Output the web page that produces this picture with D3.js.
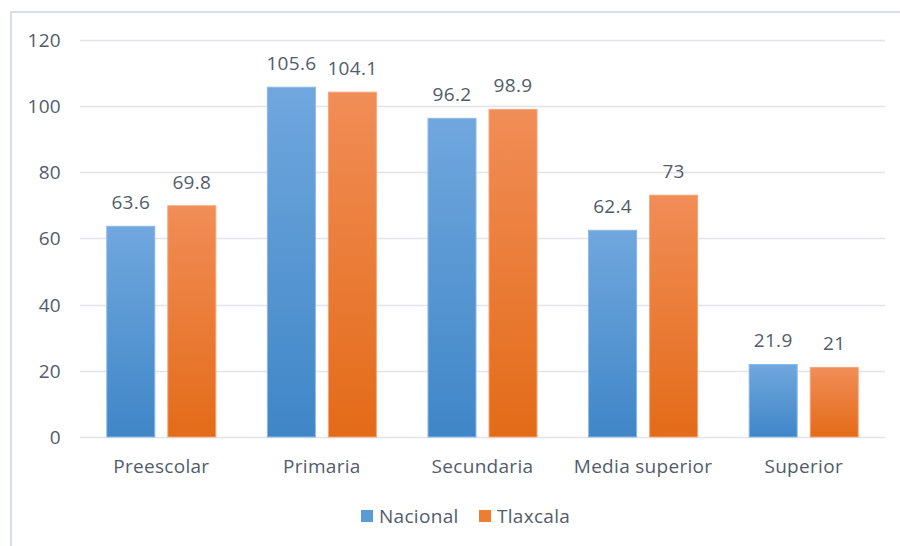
<!DOCTYPE html>
<html><head><meta charset="utf-8">
<script src="https://cdn.jsdelivr.net/npm/d3@7"></script>
<style>body{margin:0;background:#fff}svg{display:block}</style>
</head><body>
<script>
const categories = ["Preescolar","Primaria","Secundaria","Media superior","Superior"];
const series = ["Nacional","Tlaxcala"];
const nacional = [63.6,105.6,96.2,62.4,21.9];
const tlaxcala = [69.8,104.1,98.9,73,21];
const yTicks = [0,20,40,60,80,100,120];

const W=900,H=546;
const svg=d3.select("body").append("svg").attr("width",W).attr("height",H);
const font="'Open Sans', sans-serif";
const fs=19, ls="0.3px";
const txt="#525c6b";

// gradients
const defs=svg.append("defs");
const grads=[["gN","#70a7de","#3f86c7"],["gT","#f18d57","#e36b18"]];
grads.forEach(([id,a,b])=>{
  const g=defs.append("linearGradient").attr("id",id).attr("x1",0).attr("y1",0).attr("x2",0).attr("y2",1);
  g.append("stop").attr("offset","0%").attr("stop-color",a);
  g.append("stop").attr("offset","100%").attr("stop-color",b);
});
const fills={Nacional:"url(#gN)",Tlaxcala:"url(#gT)"};
const strokes={Nacional:"#8ab8e6",Tlaxcala:"#f5a577"};
const solid={Nacional:"#5b9bd5",Tlaxcala:"#ed7d31"};

// border
svg.append("path").attr("d",`M11,${H} L11,12 L${W},12`).attr("fill","none").attr("stroke","#d9dee6").attr("stroke-width",2);

const x0=d3.scaleBand().domain(categories).range([81,884]).paddingInner(0.315).paddingOuter(0.1575);
const x1=d3.scaleBand().domain(series).range([0,x0.bandwidth()]).paddingInner(0.197);
const y=d3.scaleLinear().domain([0,120]).range([437,39.5]);

// gridlines
svg.append("g").selectAll("line").data(yTicks).join("line")
  .attr("x1",80).attr("x2",885).attr("y1",d=>Math.round(y(d))+0.5).attr("y2",d=>Math.round(y(d))+0.5)
  .attr("stroke","#e1e4ea").attr("stroke-width",1.3);

function styleText(sel){
  return sel.attr("font-family",font).attr("font-size",fs).attr("letter-spacing",ls).attr("fill",txt);
}

// y labels
styleText(svg.append("g").selectAll("text").data(yTicks).join("text")
  .attr("x",61).attr("y",d=>y(d)+7).attr("text-anchor","end")).text(d=>d);

const data=categories.map((c,i)=>({c,vals:[{s:"Nacional",v:nacional[i]},{s:"Tlaxcala",v:tlaxcala[i]}]}));
const grp=svg.append("g").selectAll("g").data(data).join("g").attr("transform",d=>`translate(${x0(d.c)},0)`);
grp.selectAll("rect").data(d=>d.vals).join("rect")
  .attr("x",d=>x1(d.s)+0.5).attr("width",x1.bandwidth()-1)
  .attr("y",d=>y(d.v)).attr("height",d=>y(0)-y(d.v))
  .attr("fill",d=>fills[d.s]).attr("stroke",d=>strokes[d.s]).attr("stroke-width",1);
styleText(grp.selectAll("text").data(d=>d.vals).join("text")
  .attr("x",d=>x1(d.s)+x1.bandwidth()/2).attr("y",d=>y(d.v)-17)
  .attr("text-anchor","middle")).text(d=>d.v);

// category labels
styleText(svg.append("g").selectAll("text").data(categories).join("text")
  .attr("x",d=>x0(d)+x0.bandwidth()/2).attr("y",473).attr("text-anchor","middle")).text(d=>d);

// legend
const leg=[{s:"Nacional",x:361},{s:"Tlaxcala",x:479}];
const lg=svg.append("g").selectAll("g").data(leg).join("g").attr("transform",d=>`translate(${d.x},510)`);
lg.append("rect").attr("width",12).attr("height",12).attr("fill",d=>solid[d.s]);
styleText(lg.append("text").attr("x",18).attr("y",13)).text(d=>d.s);
</script>
</body></html>
